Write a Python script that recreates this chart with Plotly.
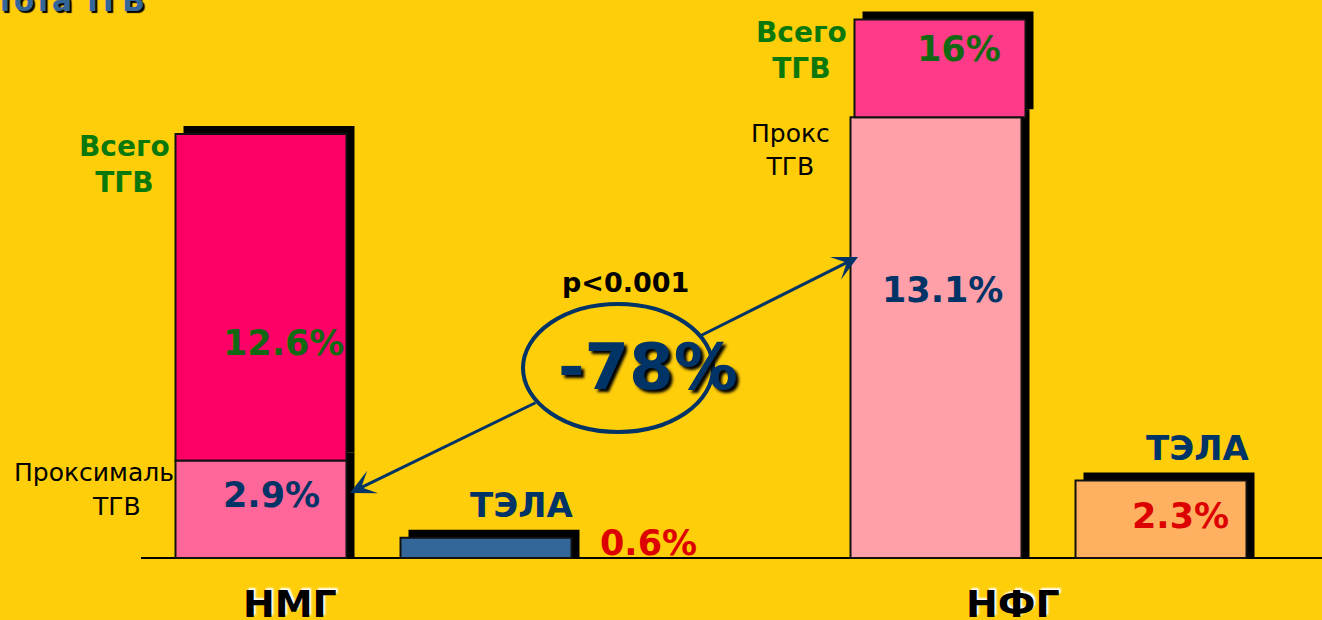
import plotly.graph_objects as go

# ---------------- data ----------------
groups = ["НМГ", "НФГ"]
total_dvt = [12.6, 16.0]      # Всего ТГВ, %
proximal_dvt = [2.9, 13.1]    # Проксимальный ТГВ, %
pe = [0.6, 2.3]               # ТЭЛА, %
pe_label = "ТЭЛА"
total_label = "Всего<br>ТГВ"
prox_labels = ["Проксималь", "Прокс<br>ТГВ"]
reduction_label = "-78%"
p_label = "p<0.001"
title_text = "Частота ТГВ"

# ---------------- layout constants ----------------
W, H = 1322, 620
PX_PER_SLOT = 225.0
X0_PX = 261.0
PX_PER_PCT = 33.65
BASE_PX = 558.0
dvt_slots = [0, 3]
pe_slots = [1, 4]
top_shift_px = [0, 4]
BAR_W = 0.76
SH = 8  # shadow offset px

def xd(px):
    return (px - X0_PX) / PX_PER_SLOT

def yd(py):
    return (BASE_PX - py) / PX_PER_PCT

def dx(px):
    return px / PX_PER_SLOT

def dy(px):
    return px / PX_PER_PCT

BG = "#FFCE0A"
NAVY = "#003366"
GREEN = "#0B780B"
GREEN_DARK = "#136813"
RED = "#DD0000"
prox_colors = ["#FF6699", "#FFA0A8"]
rest_colors = ["#FF0066", "#FF3A88"]
pe_colors = ["#336699", "#FFB060"]
OUT = dict(color="#111111", width=2)

fig = go.Figure()

rest_vals = [t - p for t, p in zip(total_dvt, proximal_dvt)]
top_x = [s + dx(o) for s, o in zip(dvt_slots, top_shift_px)]

# shadows
fig.add_trace(go.Bar(x=[s + dx(SH) for s in dvt_slots], y=[p + dy(SH) for p in proximal_dvt],
                     base=[0, 0], width=BAR_W, marker=dict(color="black", line=dict(width=0))))
fig.add_trace(go.Bar(x=[x + dx(SH) for x in top_x], y=rest_vals,
                     base=[p + dy(SH) for p in proximal_dvt], width=BAR_W,
                     marker=dict(color="black", line=dict(width=0))))
fig.add_trace(go.Bar(x=[s + dx(SH) for s in pe_slots], y=[v + dy(SH) for v in pe],
                     base=[0, 0], width=BAR_W, marker=dict(color="black", line=dict(width=0))))

# bars
fig.add_trace(go.Bar(x=dvt_slots, y=proximal_dvt, base=[0, 0], width=BAR_W,
                     marker=dict(color=prox_colors, line=OUT)))
fig.add_trace(go.Bar(x=top_x, y=rest_vals, base=proximal_dvt, width=BAR_W,
                     marker=dict(color=rest_colors, line=OUT)))
fig.add_trace(go.Bar(x=pe_slots, y=pe, base=[0, 0], width=BAR_W,
                     marker=dict(color=pe_colors, line=OUT)))

ann = []

def label(text, px, py, size, color, bold=True, shadow=None, xanchor="center"):
    f = dict(family="DejaVu Sans", size=size, color=color, weight="bold" if bold else "normal")
    if shadow:
        f["shadow"] = shadow
    ann.append(dict(text=text, x=xd(px), y=yd(py), xref="x", yref="y", showarrow=False,
                    font=f, xanchor=xanchor, yanchor="middle", align="center"))

# value labels
fmt = lambda v: f"{v:g}%"
label(fmt(total_dvt[0]), 283, 343, 35, GREEN_DARK)
label(fmt(total_dvt[1]), 959, 49, 35, GREEN_DARK)
label(fmt(proximal_dvt[0]), 271, 495, 35, NAVY)
label(fmt(proximal_dvt[1]), 942, 290, 35, NAVY)
label(fmt(pe[0]), 648, 543, 35, RED)
label(fmt(pe[1]), 1180, 516, 35, RED)

# category labels
label(pe_label, 521, 505, 34, NAVY)
label(pe_label, 1197, 448, 34, NAVY)
label(total_label, 124, 164, 28, GREEN)
label(total_label, 801, 50, 28, GREEN)
label(prox_labels[0], 94, 472, 25, "black", bold=False)
label("ТГВ", 116, 506, 25, "black", bold=False)
label(prox_labels[1], 790, 150, 25, "black", bold=False)
label(p_label, 625, 282, 27, "black")
label(reduction_label, 648, 367, 64, NAVY, shadow="3px 3px 3px #000000")
label(groups[0], 290, 604, 38, "black", shadow="2px -2px 2px #ffffff")
label(groups[1], 1013, 604, 38, "black", shadow="2px -2px 2px #ffffff")
label(title_text, 147, 0, 30, "#336699", shadow="2px 2px 1px #000000", xanchor="right")

# arrows (two halves outside the ellipse)
for (hx, hy, tx, ty) in [(350, 493, 537, 402), (858, 257, 700, 336)]:
    ann.append(dict(text="", x=xd(hx), y=yd(hy), ax=xd(tx), ay=yd(ty), xref="x", yref="y",
                    axref="x", ayref="y", showarrow=True, arrowhead=3, arrowsize=1.4,
                    arrowwidth=3, arrowcolor=NAVY, standoff=0))

shapes = [
    dict(type="line", xref="x", yref="y", x0=xd(141), x1=xd(W), y0=0, y1=0,
         line=dict(color="black", width=2), layer="below"),
    dict(type="circle", xref="x", yref="y", x0=xd(523), x1=xd(713), y0=yd(432), y1=yd(304),
         line=dict(color=NAVY, width=4)),
]

fig.update_layout(
    width=W, height=H, margin=dict(l=0, r=0, t=0, b=0),
    paper_bgcolor=BG, plot_bgcolor=BG, showlegend=False, barmode="overlay",
    xaxis=dict(range=[xd(0), xd(W)], visible=False, fixedrange=True),
    yaxis=dict(range=[yd(H), yd(0)], visible=False, fixedrange=True),
    annotations=ann, shapes=shapes, hovermode=False,
)

fig.write_html("out.html", config={"displayModeBar": False},
               post_script="document.body.style.margin='0';document.body.style.overflow='hidden';")
